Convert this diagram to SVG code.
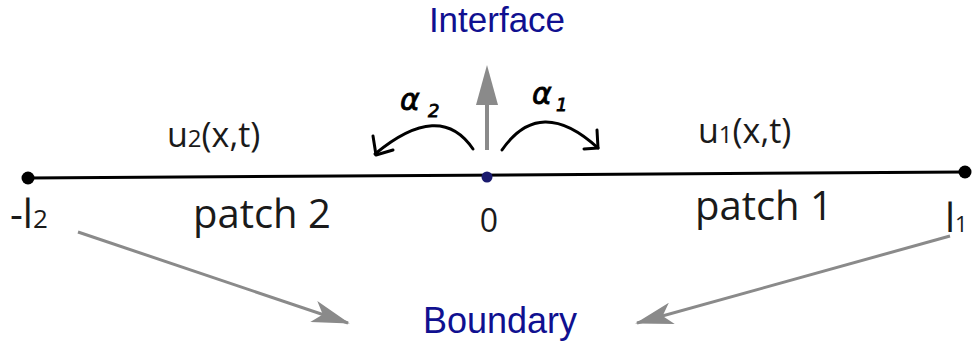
<svg xmlns="http://www.w3.org/2000/svg" width="972" height="345" viewBox="0 0 972 345">
<style>
.lbl{font-family:"Open Sans","Noto Sans",sans-serif;fill:#1a1a1a}
.blue{font-family:"Liberation Sans",Arial,sans-serif;fill:#101090}
.hand{fill:none;stroke:#000;stroke-width:3;stroke-linecap:round;stroke-linejoin:round}
.gray{stroke:#8a8a8a;stroke-width:3;fill:none}
.alpha{font-family:"DejaVu Sans",sans-serif;font-style:italic;fill:#000;stroke:#000;stroke-width:0.8}
</style>
<defs>
<marker id="gh" viewBox="0 0 10 10" refX="9.5" refY="5" markerWidth="38" markerHeight="22" markerUnits="userSpaceOnUse" orient="auto" preserveAspectRatio="none">
<path d="M0,0 L10,5 L0,10 L2.5,5 Z" fill="#8a8a8a"/>
</marker>
</defs>
<g id="axis">
<line x1="28" y1="178" x2="965" y2="172" stroke="#000" stroke-width="3"/>
</g>
<g id="left-end"><circle cx="28" cy="178" r="6.5" fill="#000"/>
<text class="lbl" x="10" y="228" font-size="40">-l<tspan font-size="26">2</tspan></text></g>
<g id="right-end"><circle cx="965" cy="172" r="6.5" fill="#000"/>
<text class="lbl" x="945" y="232" font-size="40">l<tspan font-size="22">1</tspan></text></g>
<g id="interface-point"><circle cx="487" cy="177" r="5.5" fill="#1a1a6e"/>
<text class="lbl" x="489" y="232" font-size="32" text-anchor="middle">0</text></g>
<g id="patch2"><text class="lbl" x="193" y="228" font-size="40">patch 2</text>
<text class="lbl" x="167" y="147" font-size="34">u<tspan font-size="24">2</tspan>(x,t)</text></g>
<g id="patch1"><text class="lbl" x="695" y="220" font-size="40">patch 1</text>
<text class="lbl" x="698" y="143" font-size="34">u<tspan font-size="24">1</tspan>(x,t)</text></g>
<g id="interface"><text class="blue" x="497" y="32" font-size="35" text-anchor="middle">Interface</text></g>
<g id="boundary"><text class="blue" x="500" y="333" font-size="36" text-anchor="middle">Boundary</text></g>
<g id="alpha2"><text class="alpha" x="400" y="110" font-size="30">α</text><text class="alpha" x="428" y="117" font-size="18">2</text></g>
<g id="alpha1"><text class="alpha" x="532" y="104" font-size="30">α</text><text class="alpha" x="556" y="111" font-size="18">1</text></g>
<g id="connectors">
<line x1="487" y1="150" x2="487" y2="105" stroke="#8a8a8a" stroke-width="4"/>
<path d="M487,65 L498,105 L476,105 Z" fill="#8a8a8a"/>
<path class="hand" d="M473,149 Q440,100 375,154"/>
<path class="hand" d="M373,136 L376,155 L393,150"/>
<path class="hand" d="M502,150 Q540,95 598,148"/>
<path class="hand" d="M597,130 L598,148 L584,149"/>
<line class="gray" x1="78" y1="232" x2="348" y2="323" marker-end="url(#gh)"/>
<line class="gray" x1="950" y1="236" x2="637" y2="323" marker-end="url(#gh)"/>
</g>
</svg>
